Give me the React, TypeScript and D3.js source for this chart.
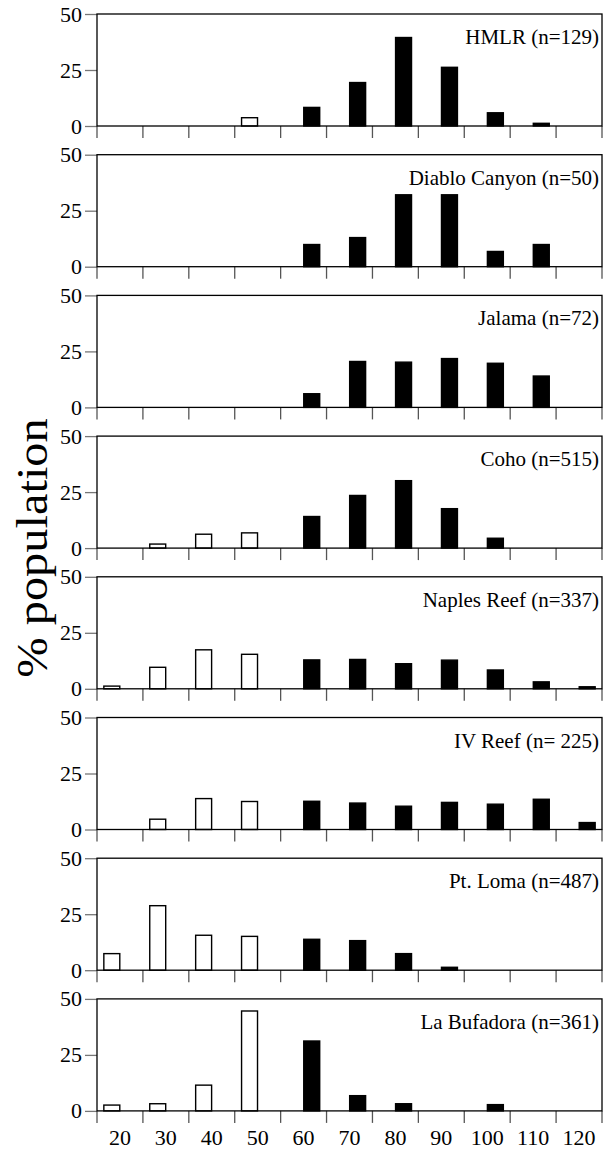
import React, { useEffect, useRef } from 'react';
import * as d3 from 'd3';

const sizeClasses = ['20', '30', '40', '50', '60', '70', '80', '90', '100', '110', '120'];
const yTicks = [0, 25, 50];

const siteLabels = [
  'HMLR (n=129)',
  'Diablo Canyon (n=50)',
  'Jalama (n=72)',
  'Coho (n=515)',
  'Naples Reef (n=337)',
  'IV Reef (n= 225)',
  'Pt. Loma (n=487)',
  'La Bufadora (n=361)',
];

// open bars (left slot of each size class)
const openPct = [
  [0, 0, 0, 3.7, 0, 0, 0, 0, 0, 0, 0],
  [0, 0, 0, 0, 0, 0, 0, 0, 0, 0, 0],
  [0, 0, 0, 0, 0, 0, 0, 0, 0, 0, 0],
  [0, 1.8, 6.2, 6.8, 0, 0, 0, 0, 0, 0, 0],
  [1.2, 9.6, 17.4, 15.4, 0, 0, 0, 0, 0, 0, 0],
  [0, 4.6, 13.8, 12.5, 0, 0, 0, 0, 0, 0, 0],
  [7.4, 28.8, 15.6, 15.1, 0, 0, 0, 0, 0, 0, 0],
  [2.6, 3.2, 11.5, 44.6, 0, 0, 0, 0, 0, 0, 0],
];

// filled bars (right slot of each size class)
const filledPct = [
  [0, 0, 0, 0, 8.3, 19.4, 39.5, 26.2, 5.9, 1.2, 0],
  [0, 0, 0, 0, 9.9, 13, 32.1, 32.1, 6.8, 9.9, 0],
  [0, 0, 0, 0, 6.1, 20.5, 20.2, 21.8, 19.7, 14, 0],
  [0, 0, 0, 0, 14.1, 23.5, 30.1, 17.6, 4.4, 0, 0],
  [0, 0, 0, 0, 12.9, 13.1, 11.2, 12.8, 8.4, 3.1, 0.9],
  [0, 0, 0, 0, 12.6, 11.8, 10.4, 12.1, 11.3, 13.5, 3.1],
  [0, 0, 0, 0, 13.8, 13.2, 7.4, 1.3, 0, 0, 0],
  [0, 0, 0, 0, 31.2, 6.8, 3.2, 0, 2.8, 0, 0],
];

const W = 608;
const H = 1150;

export default function App() {
  const ref = useRef<SVGSVGElement>(null);

  useEffect(() => {
    const svg = d3.select(ref.current);
    svg.selectAll('*').remove();

    const left = 97, right = 602;
    const top0 = 14, panelH = 112, step = 140.7;
    const font = '"Liberation Serif", "Times New Roman", serif';

    const x0 = d3.scaleBand().domain(sizeClasses).range([left, right]).padding(0);
    const x1 = d3.scaleBand().domain(['open', 'filled'])
      .range([0, x0.bandwidth()]).paddingInner(0.02).paddingOuter(0.42);

    siteLabels.forEach((label, i) => {
      const top = top0 + i * step;
      const y = d3.scaleLinear().domain([0, 50]).range([top + panelH, top]);
      const g = svg.append('g');

      // y axis
      const ya = g.append('g').attr('transform', `translate(${left},0)`)
        .call(d3.axisLeft(y).tickValues(yTicks).tickSize(12).tickPadding(3));
      ya.attr('font-family', font);
      ya.select('.domain').remove();
      ya.selectAll('line').attr('stroke', '#777').attr('stroke-width', 1.3);
      ya.selectAll('text').attr('font-family', font).attr('font-size', 22).attr('fill', '#000');

      // x axis ticks at band boundaries
      const boundaries = sizeClasses.map((c) => x0(c) as number).concat([right]);
      g.selectAll('line.xt').data(boundaries).enter().append('line')
        .attr('x1', (d) => d).attr('x2', (d) => d)
        .attr('y1', top + panelH).attr('y2', top + panelH + 12)
        .attr('stroke', '#555').attr('stroke-width', 1.3);

      if (i === siteLabels.length - 1) {
        g.selectAll('text.xl').data(sizeClasses).enter().append('text')
          .attr('x', (d) => (x0(d) as number) + x0.bandwidth() / 2)
          .attr('y', top + panelH + 34)
          .attr('text-anchor', 'middle')
          .attr('font-family', font).attr('font-size', 22)
          .text((d) => d);
      }

      // bars
      const rows = sizeClasses.map((c, k) => ({ c, open: openPct[i][k], filled: filledPct[i][k] }));
      g.selectAll('rect.o').data(rows.filter((r) => r.open > 0)).enter().append('rect')
        .attr('x', (d) => (x0(d.c) as number) + (x1('open') as number))
        .attr('y', (d) => y(d.open))
        .attr('width', x1.bandwidth())
        .attr('height', (d) => y(0) - y(d.open))
        .attr('fill', '#fff').attr('stroke', '#000').attr('stroke-width', 1.4);
      g.selectAll('rect.f').data(rows.filter((r) => r.filled > 0)).enter().append('rect')
        .attr('x', (d) => (x0(d.c) as number) + (x1('filled') as number))
        .attr('y', (d) => y(d.filled))
        .attr('width', x1.bandwidth())
        .attr('height', (d) => y(0) - y(d.filled))
        .attr('fill', '#000').attr('stroke', '#000').attr('stroke-width', 1.4);

      // frame
      g.append('rect').attr('x', left).attr('y', top).attr('width', right - left).attr('height', panelH)
        .attr('fill', 'none').attr('stroke', '#000').attr('stroke-width', 1.3);

      g.append('text').attr('x', right - 3).attr('y', top + 30)
        .attr('text-anchor', 'end').attr('font-family', font).attr('font-size', 21)
        .text(label);
    });

    svg.append('text')
      .attr('transform', `translate(47,548) rotate(-90) scale(1.1,1)`)
      .attr('text-anchor', 'middle')
      .attr('font-family', font).attr('font-size', 44)
      .text('% population');
  }, []);

  return (
    <svg ref={ref} width={W} height={H}
      style={{ position: 'absolute', left: 0, top: 0, background: '#fff' }} />
  );
}
